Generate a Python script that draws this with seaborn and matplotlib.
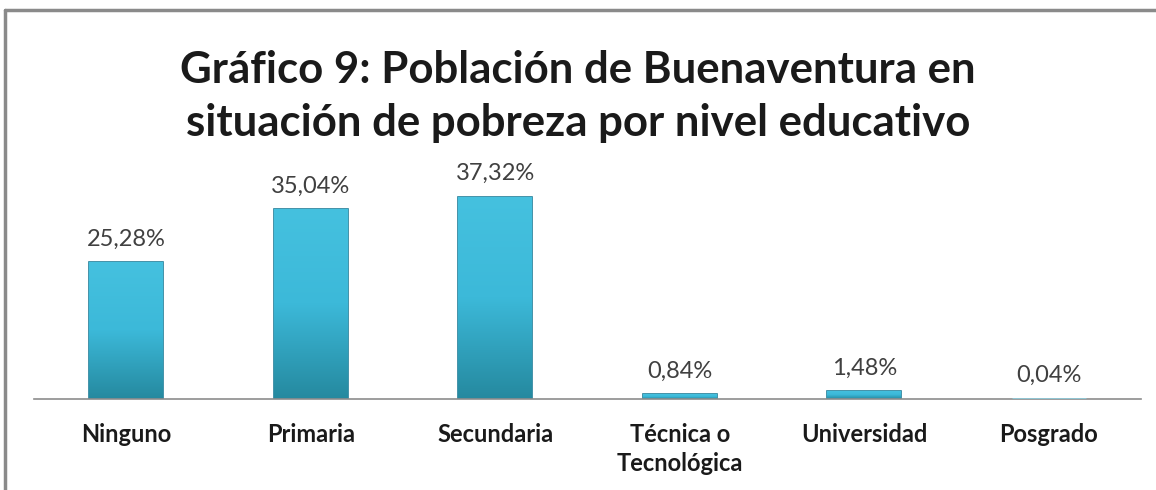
import numpy as np
import pandas as pd
import matplotlib.pyplot as plt
import seaborn as sns
from matplotlib.lines import Line2D

# Data
categories = ['Ninguno', 'Primaria', 'Secundaria', 'Técnica o\nTecnológica', 'Universidad', 'Posgrado']
values = [25.28, 35.04, 37.32, 0.84, 1.48, 0.04]
value_labels = ['25,28%', '35,04%', '37,32%', '0,84%', '1,48%', '0,04%']
title = 'Gráfico 9: Población de Buenaventura en\nsituación de pobreza por nivel educativo'


def main():
    sns.set_style('white')
    plt.rcParams['font.family'] = ['Lato', 'DejaVu Sans']

    df = pd.DataFrame({'nivel': categories, 'pct': values})

    fig = plt.figure(figsize=(11.56, 4.9), dpi=100)
    ax = fig.add_axes([0.0294, 0.1857, 0.9576, 0.4429])

    sns.barplot(data=df, x='nivel', y='pct', ax=ax, width=0.4,
                color='#38b4d4', edgecolor='#237f99', linewidth=1.2, saturation=1)

    # Bevel-like gradient on each bar
    grad = np.linspace(0, 1, 256).reshape(-1, 1)
    cmap = sns.blend_palette(['#25899f', '#3cb9d9', '#45c1df'], as_cmap=True)
    for p in ax.patches:
        x0, y0 = p.get_x(), p.get_y()
        w, h = p.get_width(), p.get_height()
        if h < 0.2:
            # tiny bar: draw as a thin light strip above the axis line
            p.set_facecolor('#8fc9d8')
            p.set_edgecolor('#8fc9d8')
            p.set_linewidth(2.0)
            p.set_zorder(4)
            continue
        im = ax.imshow(grad, extent=[x0, x0 + w, y0, y0 + h], aspect='auto',
                       cmap=cmap, origin='lower', zorder=p.get_zorder())
        im.set_clip_path(p)

    ax.set_xlim(-0.5, len(categories) - 0.5)
    ax.set_ylim(0, 40)

    for i, (v, lab) in enumerate(zip(values, value_labels)):
        ax.annotate(lab, (i, v), xytext=(0, 9), textcoords='offset points',
                    ha='center', va='bottom', fontsize=17, color='#404040')

    ax.set_xlabel('')
    ax.set_ylabel('')
    ax.set_yticks([])
    ax.set_xticks(range(len(categories)))
    ax.set_xticklabels(categories, fontsize=17, fontweight='bold', color='#1a1a1a',
                       linespacing=1.35, va='top')
    ax.tick_params(axis='x', length=0, pad=17)

    for s in ['top', 'right', 'left']:
        ax.spines[s].set_visible(False)
    ax.spines['bottom'].set_color('#8c8c8c')
    ax.spines['bottom'].set_linewidth(1.2)

    fig.text(0.5, 0.803, title, ha='center', va='center', fontsize=31.5,
             fontweight='bold', color='#1a1a1a', linespacing=1.38)

    # Chart frame (top and left edges visible)
    fig.add_artist(Line2D([0.0045, 1.0], [0.9796, 0.9796], color='#8a8a8a', lw=2.5,
                          transform=fig.transFigure))
    fig.add_artist(Line2D([0.0045, 0.0045], [0.0, 0.9796], color='#8a8a8a', lw=2.5,
                          transform=fig.transFigure))

    fig.savefig('out.png', dpi=100)


if __name__ == "__main__":
    main()
